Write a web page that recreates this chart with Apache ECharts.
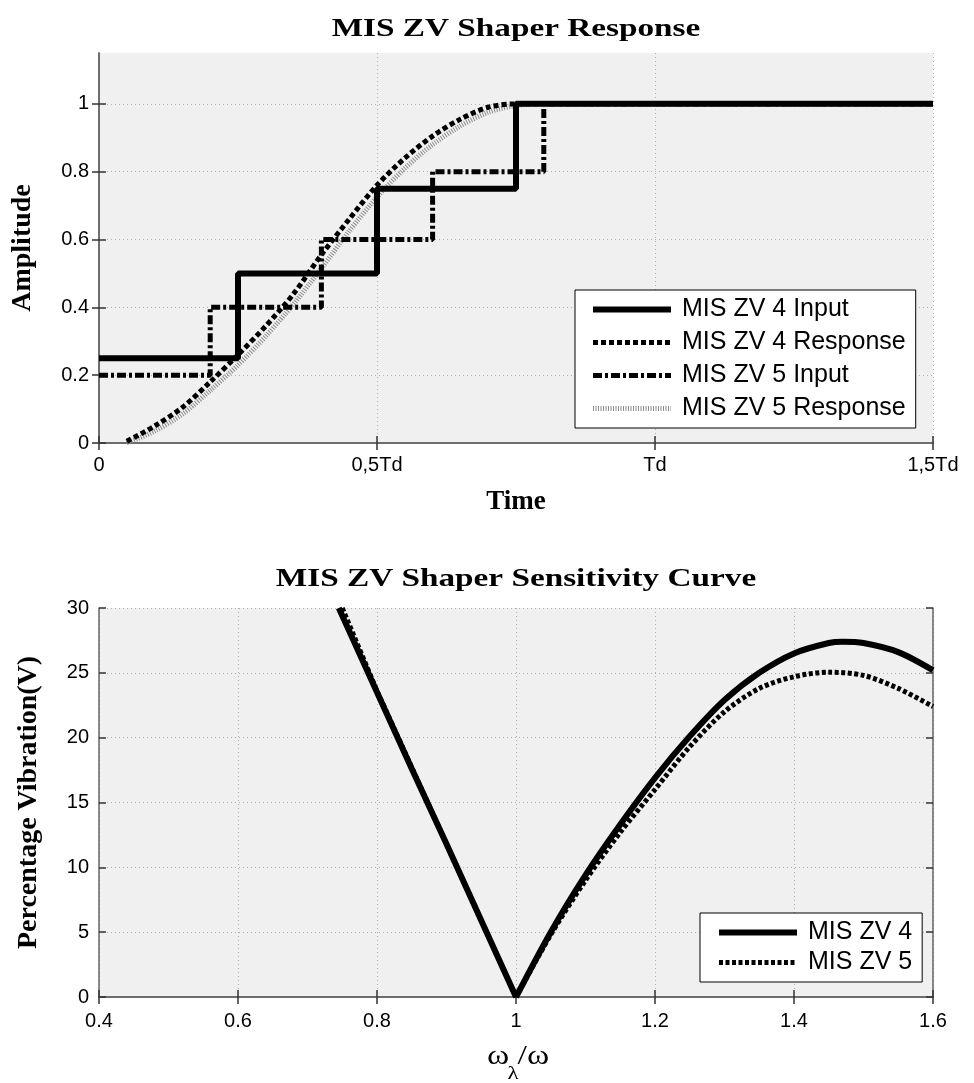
<!DOCTYPE html>
<html><head><meta charset="utf-8">
<script src="https://cdn.jsdelivr.net/npm/echarts@6/dist/echarts.min.js"></script>
<style>html,body{margin:0;padding:0;background:#fff}#c{width:974px;height:1083px}</style>
</head><body><div id="c"></div>
<script>
// ---- Top chart data (time in units of Td) ----
const timeTicks = [0, 0.5, 1, 1.5];
const timeTickLabels = ['0', '0,5Td', 'Td', '1,5Td'];
const ampTicks = [0, 0.2, 0.4, 0.6, 0.8, 1];
const zv4InputT = [0, 0.25, 0.5, 0.75, 1.5];
const zv4InputA = [0.25, 0.5, 0.75, 1, 1];
const zv5InputT = [0, 0.2, 0.4, 0.6, 0.8, 1.5];
const zv5InputA = [0.2, 0.4, 0.6, 0.8, 1, 1];
const zv4RespT = [0.05, 0.10, 0.15, 0.20, 0.25, 0.30, 0.35, 0.40, 0.45, 0.50, 0.55, 0.60, 0.65, 0.70, 0.75, 1.5];
const zv4RespA = [0.005, 0.05, 0.105, 0.18, 0.26, 0.345, 0.44, 0.555, 0.66, 0.76, 0.84, 0.905, 0.955, 0.99, 1.0, 1.0];
const zv5RespT = [0.05, 0.10, 0.15, 0.20, 0.25, 0.30, 0.35, 0.40, 0.45, 0.50, 0.55, 0.60, 0.65, 0.70, 0.75, 0.80, 1.5];
const zv5RespA = [0, 0.035, 0.085, 0.155, 0.23, 0.315, 0.41, 0.515, 0.625, 0.725, 0.81, 0.88, 0.935, 0.975, 0.995, 1.0, 1.0];

// ---- Bottom chart data (frequency ratio), falling and rising branches ----
const zv4FallW = [0.745, 0.80, 0.85, 0.90, 0.95, 1.00];
const zv4FallV = [30, 23.5, 17.6, 11.8, 5.9, 0];
const zv4RiseW = [1.00, 1.05, 1.10, 1.15, 1.20, 1.25, 1.30, 1.35, 1.40, 1.45, 1.47, 1.50, 1.55, 1.60];
const zv4RiseV = [0, 5.0, 9.4, 13.3, 16.9, 20.1, 22.9, 25.0, 26.5, 27.3, 27.4, 27.3, 26.6, 25.2];
const zv5FallW = [0.75, 0.80, 0.85, 0.90, 0.95, 1.00];
const zv5FallV = [30, 23.6, 17.7, 11.8, 5.9, 0];
const zv5RiseW = [1.00, 1.05, 1.10, 1.15, 1.20, 1.25, 1.30, 1.35, 1.40, 1.45, 1.50, 1.55, 1.60];
const zv5RiseV = [0, 4.8, 9.0, 12.7, 16.0, 19.3, 22.0, 23.8, 24.7, 25.05, 24.8, 23.8, 22.4];

const pairs = (xs, ys) => xs.map((x, i) => [x, ys[i]]);

const serif = 'Liberation Serif';
const sans = 'Liberation Sans';
const frame = '#666';
const gridLine = { show: true, lineStyle: { color: '#b0b0b0', type: [1, 3], width: 1 } };
const tickIn = { show: true, inside: true, length: 7, lineStyle: { color: '#333', width: 1.5 } };
const ampTickIn = Object.assign({}, tickIn, { customValues: ampTicks });
const axisLineStyle = { show: true, lineStyle: { color: frame, width: 1.5 } };
const labelStyle = { color: '#000', fontFamily: sans, fontSize: 20 };
const nameStyle = { fontFamily: serif, fontWeight: 'bold', fontSize: 28, color: '#000' };
const legendCommon = {
  orient: 'vertical', itemWidth: 78, itemHeight: 14, backgroundColor: '#fff',
  borderColor: '#000', borderWidth: 1, borderRadius: 0,
  itemStyle: { opacity: 0 }, lineStyle: { width: 'inherit' },
  textStyle: { fontFamily: sans, fontSize: 25, color: '#000', padding: [0, 0, 0, 6] }
};

const zv4Style = { color: '#000', width: 6 };
const zv5Style = { color: '#000', width: 5, type: [4, 2.5] };

const option = {
  backgroundColor: '#fff',
  animation: false,
  grid: [
    { left: 99, top: 53, width: 834, height: 390, show: true, backgroundColor: '#f0f0f0', borderWidth: 0 },
    { left: 99, top: 608, width: 834, height: 389, show: true, backgroundColor: '#f0f0f0', borderWidth: 0 }
  ],
  legend: [
    Object.assign({}, legendCommon, { left: 575, top: 290, itemGap: 8, padding: [7, 10, 7, 15],
      data: ['MIS ZV 4 Input', 'MIS ZV 4 Response', 'MIS ZV 5 Input', 'MIS ZV 5 Response'] }),
    Object.assign({}, legendCommon, { left: 700, top: 913, itemGap: 5, padding: [7, 10, 7, 16],
      data: ['MIS ZV 4', 'MIS ZV 5'] })
  ],
  xAxis: [
    { type: 'value', gridIndex: 0, min: 0, max: 1.5, interval: 0.5,
      axisLine: axisLineStyle, axisTick: tickIn, splitLine: gridLine,
      axisLabel: Object.assign({}, labelStyle, { margin: 12,
        formatter: v => { const i = timeTicks.findIndex(t => Math.abs(t - v) < 1e-9); return i >= 0 ? timeTickLabels[i] : ''; } }),
      name: 'Time', nameLocation: 'middle', nameGap: 46, nameTextStyle: Object.assign({}, nameStyle, { fontSize: 27 }) },
    { type: 'value', gridIndex: 0, position: 'top', min: 0, max: 1.5, interval: 0.5,
      axisLine: axisLineStyle, axisTick: tickIn, splitLine: { show: false }, axisLabel: { show: false } },
    { type: 'value', gridIndex: 1, min: 0.4, max: 1.6, interval: 0.2,
      axisLine: axisLineStyle, axisTick: tickIn, splitLine: gridLine,
      axisLabel: Object.assign({}, labelStyle, { margin: 14, formatter: v => String(+v.toFixed(1)) }) },
    { type: 'value', gridIndex: 1, position: 'top', min: 0.4, max: 1.6, interval: 0.2,
      axisLine: axisLineStyle, axisTick: tickIn, splitLine: { show: false }, axisLabel: { show: false } }
  ],
  yAxis: [
    { type: 'value', gridIndex: 0, min: 0, max: 1.15, interval: 0.2,
      axisLine: axisLineStyle, axisTick: ampTickIn, splitLine: gridLine,
      axisLabel: Object.assign({}, labelStyle, { margin: 10, showMaxLabel: false,
        formatter: v => (Math.abs(v * 5 - Math.round(v * 5)) < 1e-6 ? String(+v.toFixed(1)) : '') }),
      name: 'Amplitude', nameLocation: 'middle', nameGap: 62, nameTextStyle: nameStyle },
    { type: 'value', gridIndex: 0, position: 'right', min: 0, max: 1.15, interval: 0.2,
      axisLine: axisLineStyle, axisTick: ampTickIn, splitLine: { show: false }, axisLabel: { show: false } },
    { type: 'value', gridIndex: 1, min: 0, max: 30, interval: 5,
      axisLine: axisLineStyle, axisTick: tickIn, splitLine: gridLine,
      axisLabel: Object.assign({}, labelStyle, { margin: 10 }),
      name: 'Percentage Vibration(V)', nameLocation: 'middle', nameGap: 56, nameTextStyle: nameStyle },
    { type: 'value', gridIndex: 1, position: 'right', min: 0, max: 30, interval: 5,
      axisLine: axisLineStyle, axisTick: tickIn, splitLine: { show: false }, axisLabel: { show: false } }
  ],
  graphic: [
    { type: 'text', x: 516, y: 30, scaleX: 1.33,
      style: { text: 'MIS ZV Shaper Response', fontFamily: serif, fontWeight: 'bold', fontSize: 25, fill: '#000', align: 'center', verticalAlign: 'middle' } },
    { type: 'text', x: 516, y: 580, scaleX: 1.33,
      style: { text: 'MIS ZV Shaper Sensitivity Curve', fontFamily: serif, fontWeight: 'bold', fontSize: 25, fill: '#000', align: 'center', verticalAlign: 'middle' } },
    { type: 'text', x: 518, y: 1057, scaleX: 1.25,
      style: { text: 'ω /ω', fontFamily: serif, fontSize: 27, fill: '#000', align: 'center', verticalAlign: 'middle' } },
    { type: 'text', x: 513, y: 1074, scaleX: 1.2,
      style: { text: 'λ', fontFamily: serif, fontSize: 19, fill: '#000', align: 'center', verticalAlign: 'middle' } }
  ],
  series: [
    { name: 'MIS ZV 5 Response', type: 'line', xAxisIndex: 0, yAxisIndex: 0, symbol: 'none', z: 2,
      data: pairs(zv5RespT, zv5RespA), smooth: 0.3,
      lineStyle: { color: '#8c8c8c', width: 5, type: [1, 1.5] }, itemStyle: { color: '#8c8c8c' } },
    { name: 'MIS ZV 4 Response', type: 'line', xAxisIndex: 0, yAxisIndex: 0, symbol: 'none', z: 3,
      data: pairs(zv4RespT, zv4RespA), smooth: 0.3,
      lineStyle: { color: '#000', width: 5, type: [5, 3] }, itemStyle: { color: '#000' } },
    { name: 'MIS ZV 5 Input', type: 'line', xAxisIndex: 0, yAxisIndex: 0, symbol: 'none', step: 'end', z: 4,
      data: pairs(zv5InputT, zv5InputA),
      lineStyle: { color: '#000', width: 5, type: [9, 3, 3, 3] }, itemStyle: { color: '#000' } },
    { name: 'MIS ZV 4 Input', type: 'line', xAxisIndex: 0, yAxisIndex: 0, symbol: 'none', step: 'end', z: 5,
      data: pairs(zv4InputT, zv4InputA),
      lineStyle: { color: '#000', width: 6 }, itemStyle: { color: '#000' } },
    { name: 'MIS ZV 5', type: 'line', xAxisIndex: 2, yAxisIndex: 2, symbol: 'none', z: 3,
      data: pairs(zv5FallW, zv5FallV), lineStyle: zv5Style, itemStyle: { color: '#000' } },
    { name: 'MIS ZV 5', type: 'line', xAxisIndex: 2, yAxisIndex: 2, symbol: 'none', z: 3, smooth: 0.3,
      data: pairs(zv5RiseW, zv5RiseV), lineStyle: zv5Style, itemStyle: { color: '#000' } },
    { name: 'MIS ZV 4', type: 'line', xAxisIndex: 2, yAxisIndex: 2, symbol: 'none', z: 4,
      data: pairs(zv4FallW, zv4FallV), lineStyle: zv4Style, itemStyle: { color: '#000' } },
    { name: 'MIS ZV 4', type: 'line', xAxisIndex: 2, yAxisIndex: 2, symbol: 'none', z: 4, smooth: 0.3,
      data: pairs(zv4RiseW, zv4RiseV), lineStyle: zv4Style, itemStyle: { color: '#000' } }
  ]
};
const chart = echarts.init(document.getElementById('c'), null, { renderer: 'canvas' });
chart.setOption(option);
</script>
</body></html>
